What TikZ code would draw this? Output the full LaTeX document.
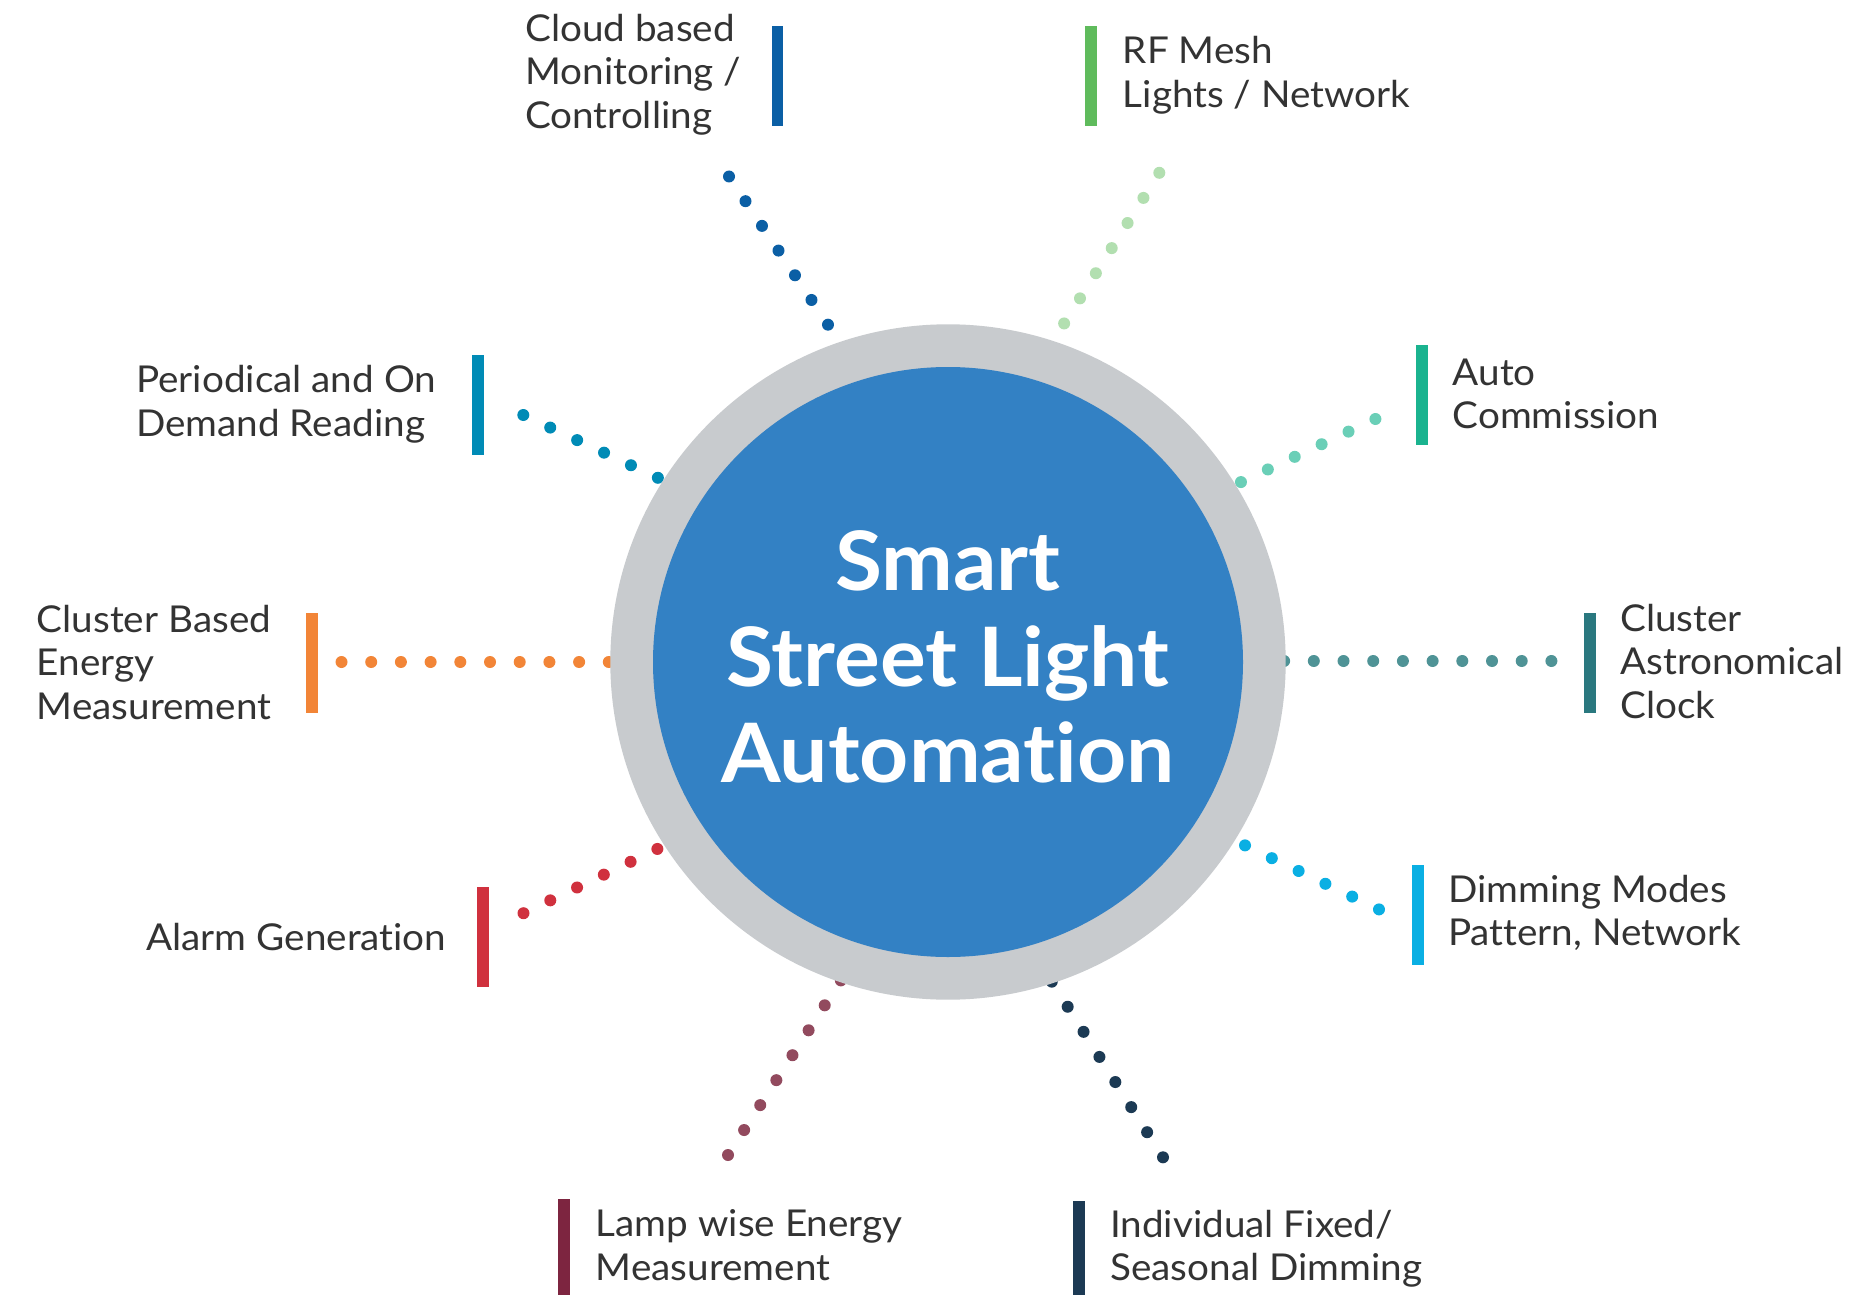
\documentclass[tikz,border=0pt]{standalone}
\usepackage{fontspec}
\setmainfont{Lato}[FakeStretch=1.045, Ligatures=NoCommon]
\definecolor{txt}{HTML}{333333}
\definecolor{ringgray}{HTML}{C8CBCE}
\definecolor{coreblue}{HTML}{3381C4}
\definecolor{cCloud}{HTML}{0B5FA5}
\definecolor{cRFbar}{HTML}{5FBB5C}
\definecolor{cRFdot}{HTML}{B2DFB0}
\definecolor{cAutobar}{HTML}{1AB38F}
\definecolor{cAutodot}{HTML}{6ACFB7}
\definecolor{cAstrobar}{HTML}{2A787F}
\definecolor{cAstrodot}{HTML}{4F9396}
\definecolor{cDim}{HTML}{0AAFE3}
\definecolor{cInd}{HTML}{1C3A54}
\definecolor{cLampbar}{HTML}{7D2540}
\definecolor{cLampdot}{HTML}{924A5E}
\definecolor{cAlarm}{HTML}{D0313E}
\definecolor{cCluster}{HTML}{F28537}
\definecolor{cPeriod}{HTML}{008BB6}
\begin{document}
\begin{tikzpicture}[x=1pt,y=-1pt,
  lbl/.style={font=\fontsize{37}{43.5}\selectfont, text=txt, align=left, inner sep=0pt},
  fbar/.style={fill=#1, draw=none, rectangle, minimum width=11.5pt, minimum height=100pt, inner sep=0pt},
  dotline/.style={draw=#1, line width=12pt, line cap=round, dash pattern=on 0pt off 29.7pt},
]
\useasboundingbox (0,0) rectangle (1864,1295);
\fill[white] (0,0) rectangle (1864,1295);

% spoke end points
\coordinate (o1) at (729,176.5);   \coordinate (i1) at (877.5,398.8);
\coordinate (o2) at (1159.3,172.8); \coordinate (i2) at (1016.6,398.7);
\coordinate (o3) at (1375.4,419);   \coordinate (i3) at (1160.5,519.8);
\coordinate (o4) at (1551.4,661);   \coordinate (i4) at (1195,661);
\coordinate (o5) at (1379,909.4);   \coordinate (i5) at (1164.1,806.7);
\coordinate (o6) at (1163,1157.3);  \coordinate (i6) at (1004.7,907.3);
\coordinate (o7) at (728,1155);     \coordinate (i7) at (888,907.4);
\coordinate (o8) at (523.5,913.2);  \coordinate (i8) at (737.4,810.5);
\coordinate (o9) at (341.5,662);    \coordinate (i9) at (697.9,662);
\coordinate (o10) at (523.3,415);   \coordinate (i10) at (739.3,515.8);

\draw[dotline=cCloud] (o1) -- (i1);
\draw[dotline=cRFdot] (o2) -- (i2);
\draw[dotline=cAutodot] (o3) -- (i3);
\draw[dotline=cAstrodot] (o4) -- (i4);
\draw[dotline=cDim] (o5) -- (i5);
\draw[dotline=cInd] (o6) -- (i6);
\draw[dotline=cLampdot] (o7) -- (i7);
\draw[dotline=cAlarm] (o8) -- (i8);
\draw[dotline=cCluster] (o9) -- (i9);
\draw[dotline=cPeriod] (o10) -- (i10);

% hub
\node[circle, fill=ringgray, minimum size=675.4pt, inner sep=0pt] (hub) at (948,662) {};
\node[circle, fill=coreblue, minimum size=590pt, inner sep=0pt] (core) at (948,662) {};
\node[anchor=base, align=center, text=white, inner sep=0pt,
      font=\fontsize{82}{96}\selectfont\bfseries] (title) at (948,782)
      {Smart\\Street Light\\Automation};

% bars
\node[fbar=cCloud] (b1) at (777.5,75.8) {};
\node[fbar=cRFbar] (b2) at (1091,76) {};
\node[fbar=cAutobar] (b3) at (1422,394.5) {};
\node[fbar=cAstrobar] (b4) at (1590,663) {};
\node[fbar=cDim] (b5) at (1418,914.5) {};
\node[fbar=cInd] (b6) at (1079,1251) {};
\node[fbar=cLampbar] (b7) at (564,1249) {};
\node[fbar=cAlarm] (b8) at (482.8,936.5) {};
\node[fbar=cCluster] (b9) at (312,662.5) {};
\node[fbar=cPeriod] (b10) at (478,405) {};

% labels (anchor at baseline of last line)
\node[lbl, anchor=base west] (t1) at (525,128.5) {Cloud based\\Monitoring /\\Controlling};
\node[lbl, anchor=base west] (t2) at (1122.7,107.5) {RF Mesh\\Lights / Network};
\node[lbl, anchor=base west] (t3) at (1452.5,428.5) {Auto\\Commission};
\node[lbl, anchor=base west] (t4) at (1620,718) {Cluster\\Astronomical\\Clock};
\node[lbl, anchor=base west] (t5) at (1448,945.5) {Dimming Modes\\Pattern, Network};
\node[lbl, anchor=base west] (t6) at (1110,1280.5) {Individual Fixed/\\Seasonal Dimming};
\node[lbl, anchor=base west] (t7) at (595.7,1280) {Lamp wise Energy\\Measurement};
\node[lbl, anchor=base east] (t8) at (446.5,950.5) {Alarm Generation};
\node[lbl, anchor=base west] (t9) at (36.7,719) {Cluster Based\\Energy\\Measurement};
\node[lbl, anchor=base west] (t10) at (136,436.3) {Periodical and On\\Demand Reading};
\end{tikzpicture}
\end{document}
